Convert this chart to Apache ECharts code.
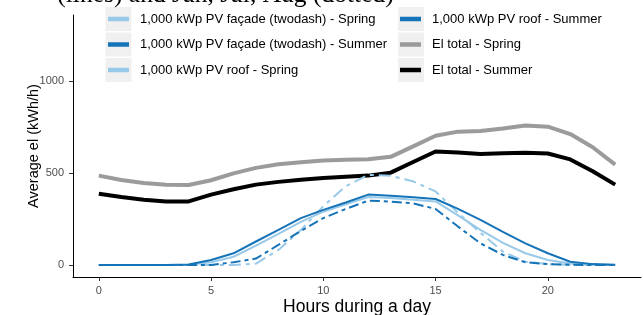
<!DOCTYPE html>
<html>
<head>
<meta charset="utf-8">
<script src="https://cdn.jsdelivr.net/npm/echarts@6/dist/echarts.min.js"></script>
<style>
html,body{margin:0;padding:0;background:#fff;}
#c{width:643px;height:315px;}
</style>
</head>
<body>
<div id="c"></div>
<script>
const hours = [0,1,2,3,4,5,6,7,8,9,10,11,12,13,14,15,16,17,18,19,20,21,22,23];
const elSpring = [486,462,446,437,435,461,498,528,548,559,568,572,575,588,645,703,725,728,742,758,752,712,640,546];
const elSummer = [388,370,355,346,346,383,412,437,452,464,473,480,486,502,560,617,612,603,607,610,606,574,510,437];
const roofSummer = [0,0,0,0,3,27,64,128,191,255,300,340,383,377,368,359,305,246,180,118,64,18,5,2];
const roofSpring = [0,0,0,0,1,15,45,105,170,235,290,330,370,365,355,346,270,191,120,64,27,8,2,0];
const facadeSpring = [0,0,0,0,0,0,0,8,82,190,320,428,490,485,455,400,284,175,73,18,5,1,0,0];
const facadeSummer = [0,0,0,0,0,0,15,35,110,185,255,305,350,345,335,305,209,118,55,15,5,2,0,0];
const xTicks = [0,5,10,15,20];
const yTicks = [0,500,1000];
const names = [
  '1,000 kWp PV façade (twodash) - Spring',
  '1,000 kWp PV façade (twodash) - Summer',
  '1,000 kWp PV roof - Spring',
  '1,000 kWp PV roof - Summer',
  'El total - Spring',
  'El total - Summer'
];

const LIGHT = '#98c9e8', DARK = '#1573b8', GRAY = '#9b9b9b', BLACK = '#000000';
const pair = arr => hours.map((h, i) => [h, arr[i]]);

function mk(name, arr, color, width, type) {
  return {
    name: name, type: 'line', data: pair(arr), showSymbol: false, symbol: 'none',
    lineStyle: {color: color, width: width, type: type, cap: 'butt'},
    itemStyle: {color: color}, silent: true, animation: false
  };
}

const series = [
  mk(names[4], elSpring, GRAY, 4, 'solid'),
  mk(names[5], elSummer, BLACK, 4, 'solid'),
  mk(names[2], roofSpring, LIGHT, 2, 'solid'),
  mk(names[0], facadeSpring, LIGHT, 2, [12, 5, 4, 5]),
  mk(names[3], roofSummer, DARK, 2, 'solid'),
  mk(names[1], facadeSummer, DARK, 2, [10, 4, 4, 4])
];

const legendCommon = {
  orient: 'vertical', top: 12, padding: 0, itemWidth: 21, itemHeight: 4.5, itemGap: 11.5,
  icon: 'rect', selectedMode: false,
  itemStyle: {borderWidth: 0},
  textStyle: {fontFamily: 'Liberation Sans', fontSize: 13, color: '#000', lineHeight: 14, padding: [0,0,0,6]}
};

const bg = '#f0f0f0';
const keyRects = [];
[105.5, 398].forEach(x => {
  [7, 32.5, 58].forEach(y => {
    keyRects.push({type: 'rect', shape: {x: x, y: y, width: 26, height: 24}, style: {fill: bg}, z: 0});
  });
});

const chart = echarts.init(document.getElementById('c'), null, {renderer: 'canvas'});
chart.setOption({
  animation: false,
  grid: {left: 73, right: 2, top: 15, bottom: 38, outerBoundsMode: 'none', containLabel: false},
  xAxis: {
    type: 'value', min: -1.15, max: 24.15,
    name: 'Hours during a day', nameLocation: 'middle', nameGap: 21, nameMoveOverlap: false,
    nameTextStyle: {fontFamily: 'Liberation Sans', fontSize: 17.5, color: '#000'},
    axisLine: {show: true, onZero: false, lineStyle: {color: '#000', width: 1}},
    axisTick: {show: true, customValues: xTicks, length: 4, lineStyle: {color: '#333'}},
    axisLabel: {customValues: xTicks, margin: 8, fontFamily: 'Liberation Sans', fontSize: 11, color: '#4d4d4d'},
    splitLine: {show: false}
  },
  yAxis: {
    type: 'value', min: -65, max: 1359,
    name: 'Average el (kWh/h)', nameLocation: 'middle', nameGap: 32, nameMoveOverlap: false,
    nameTextStyle: {fontFamily: 'Liberation Sans', fontSize: 14.5, color: '#000'},
    axisLine: {show: true, onZero: false, lineStyle: {color: '#000', width: 1}},
    axisTick: {show: true, customValues: yTicks, length: 4, lineStyle: {color: '#333'}},
    axisLabel: {customValues: yTicks, margin: 9, fontFamily: 'Liberation Sans', fontSize: 11, color: '#4d4d4d',
                formatter: v => String(v)},
    splitLine: {show: false}
  },
  legend: [
    Object.assign({}, legendCommon, {left: 108, data: [names[0], names[1], names[2]]}),
    Object.assign({}, legendCommon, {left: 400, data: [names[3], names[4], names[5]]})
  ],
  graphic: [
    ...keyRects,
    {type: 'text', x: 225.5, y: 8, z: 10,
     style: {text: '(lines) and Jun, Jul, Aug (dotted)', align: 'center', verticalAlign: 'bottom',
             font: '25.5px "Liberation Serif"', fill: '#000'}}
  ],
  series: series
});
</script>
</body>
</html>
